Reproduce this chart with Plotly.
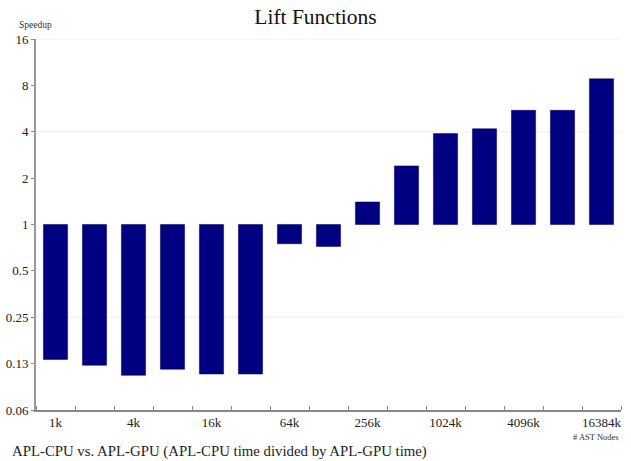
import plotly.graph_objects as go

categories = ["1k", "2k", "4k", "8k", "16k", "32k", "64k", "128k",
              "256k", "512k", "1024k", "2048k", "4096k", "8192k", "16384k"]
speedup = [0.133, 0.122, 0.105, 0.115, 0.107, 0.107, 0.75, 0.72,
           1.40, 2.40, 3.89, 4.18, 5.51, 5.51, 8.82]
y_tick_vals = [0.0625, 0.125, 0.25, 0.5, 1, 2, 4, 8, 16]
y_tick_text = ["0.06", "0.13", "0.25", "0.5", "1", "2", "4", "8", "16"]
grid_vals = [16, 4, 0.25]
baseline = 1

serif = "Liberation Serif, Times New Roman, serif"
idx = list(range(len(categories)))

fig = go.Figure()
fig.add_trace(go.Bar(
    x=idx,
    y=[v - baseline for v in speedup],
    base=baseline,
    marker=dict(color="#000080", line=dict(color="#00005a", width=0.5)),
    width=0.62,
    hovertext=[f"{c}: {v}" for c, v in zip(categories, speedup)],
    hoverinfo="text",
))

for g in grid_vals:
    fig.add_shape(type="line", xref="paper", x0=0, x1=1, yref="y", y0=g, y1=g,
                  line=dict(color="#eeeeee", width=1), layer="below")

fig.update_layout(
    width=631, height=461,
    margin=dict(l=36, r=10, t=39, b=51),
    plot_bgcolor="white", paper_bgcolor="white",
    showlegend=False,
    title=dict(text="Lift Functions", x=0.5, xanchor="center", y=0.98, yanchor="top",
               font=dict(family=serif, size=21.5, color="#111")),
    font=dict(family=serif, size=13, color="#222"),
    xaxis=dict(
        automargin=False,
        range=[-0.5, len(categories) - 0.5],
        tickmode="array",
        tickvals=idx[::2],
        ticktext=categories[::2],
        ticks="",
        showgrid=False, zeroline=False,
        showline=True, linecolor="#888", linewidth=1.5,
        tickfont=dict(family=serif, size=13, color="#222"),
        minor=dict(ticks="inside", tick0=0.5, dtick=1, ticklen=4,
                   tickcolor="#888", tickwidth=1, showgrid=False),
    ),
    yaxis=dict(
        automargin=False,
        type="log",
        range=[-1.2041, 1.2041],
        tickmode="array",
        tickvals=y_tick_vals,
        ticktext=y_tick_text,
        ticks="outside", ticklen=3, tickcolor="#888",
        showgrid=False, zeroline=False,
        showline=True, linecolor="#999", linewidth=2,
        tickfont=dict(family=serif, size=13, color="#222"),
    ),
)

fig.add_annotation(text="Speedup", xref="paper", yref="paper", x=-0.032, y=1.02,
                   xanchor="left", yanchor="bottom", showarrow=False,
                   font=dict(family=serif, size=9.5, color="#333"))
fig.add_annotation(text="# AST Nodes", xref="paper", yref="paper", x=1.0, y=-0.055,
                   xanchor="right", yanchor="top", showarrow=False,
                   font=dict(family=serif, size=8.5, color="#333"))
fig.add_annotation(text="APL-CPU vs. APL-GPU (APL-CPU time divided by APL-GPU time)",
                   xref="paper", yref="paper", x=-0.045, y=-0.083,
                   xanchor="left", yanchor="top", showarrow=False,
                   font=dict(family=serif, size=14.8, color="#222"))

fig.write_html("out.html", config={"displayModeBar": False},
               post_script="document.body.style.margin='0';document.body.style.padding='0';")
